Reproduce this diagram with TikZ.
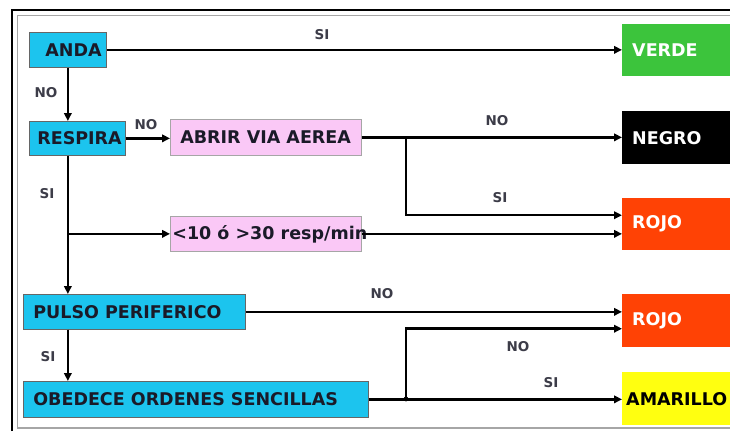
\documentclass[tikz,border=0pt]{standalone}
\usepackage{fontspec}
\setmainfont{DejaVu Sans}
\usetikzlibrary{arrows.meta}
\definecolor{cyanbox}{HTML}{1CC4EE}
\definecolor{pinkbox}{HTML}{FAC8F6}
\definecolor{greenbox}{HTML}{3CC43C}
\definecolor{redbox}{HTML}{FF4205}
\definecolor{yellowbox}{HTML}{FFFF10}
\definecolor{txtdark}{HTML}{1A1A28}
\newcommand{\bigf}{\fontsize{17.5}{20}\selectfont\bfseries}
\newcommand{\smallf}{\fontsize{13.5}{15}\selectfont\bfseries}
\newcommand{\bt}[3]{\makebox[#1pt][l]{\hspace{#2pt}#3}}
\begin{document}
\begin{tikzpicture}[x=1pt,y=-1pt,
  lbox/.style={anchor=north west, inner sep=0pt, fill=cyanbox, draw=gray!80!black, line width=0.7pt, font=\bigf, text=txtdark},
  pbox/.style={lbox, fill=pinkbox, draw=gray!70},
  rbox/.style={anchor=north west, inner sep=0pt, font=\bigf, text=white},
  lab/.style={font=\smallf, text=txtdark!85, inner sep=0pt},
  arr/.style={line width=2.5pt, -{Triangle[length=8pt,width=7.5pt]}},
  ln/.style={line width=2.5pt}]
\useasboundingbox (0,0) rectangle (730,431);
\fill[white] (0,0) rectangle (730,431);
% frame
\draw[line width=1.8pt] (12,431) -- (12,10) -- (730,10);
\draw[gray!70, line width=1pt] (17,428) -- (17,15) -- (730,15);
\draw[gray!70, line width=1.2pt] (17,428) -- (730,428);

% left column
\node[lbox, minimum height=35pt] (anda) at (29,32) {\bt{77}{16}{ANDA}};
\node[lbox, minimum height=34pt] (respira) at (29,121) {\bt{96}{8}{RESPIRA}};
\node[pbox, minimum height=36pt] (abrir) at (170,119) {\bt{191}{10}{ABRIR VIA AEREA}};
\node[pbox, minimum height=35pt] (resp) at (170,216) {\bt{191}{2}{<10 ó >30 resp/min}};
\node[lbox, minimum height=35pt] (pulso) at (23,294) {\bt{222}{10}{PULSO PERIFERICO}};
\node[lbox, minimum height=36pt] (obedece) at (23,381) {\bt{345}{10}{OBEDECE ORDENES SENCILLAS}};

% right column
\node[rbox, fill=greenbox, minimum height=52pt] (verde) at (622,24) {\bt{108}{10}{VERDE}};
\node[rbox, fill=black, minimum height=53pt] (negro) at (622,111) {\bt{108}{10}{NEGRO}};
\node[rbox, fill=redbox, minimum height=52pt] (rojoa) at (622,198) {\bt{108}{10}{\raisebox{3pt}{ROJO}}};
\node[rbox, fill=redbox, minimum height=53pt] (rojob) at (622,294) {\bt{108}{10}{\raisebox{3pt}{ROJO}}};
\node[rbox, fill=yellowbox, text=black, minimum height=53pt] (amarillo) at (622,372) {\bt{108}{4}{AMARILLO}};

% junctions
\coordinate (ja) at (406,137);
\coordinate (jb) at (406,399);

% connectors
\draw[arr] (anda.east) -- (anda.east -| verde.west);
\draw[arr] (anda.south) -- (anda.south |- respira.north);
\draw[arr] (respira.east) -- (respira.east -| abrir.west);
\draw[arr] (abrir.east) -- (abrir.east -| negro.west);
\draw[arr] (ja) |- ([yshift=9pt]rojoa.west);
\draw[arr] (respira.south -| anda.south) -- (pulso.north -| anda.south);
\draw[arr] (resp.west -| anda.south) -- (resp.west);
\draw[arr] (resp.east) -- (resp.east -| rojoa.west);
\draw[arr] (pulso.south -| anda.south) -- (obedece.north -| anda.south);
\draw[arr] (pulso.east) -- (pulso.east -| rojob.west);
\draw[arr] (obedece.east) -- (obedece.east -| amarillo.west);
\draw[arr] (jb) |- ([yshift=-8pt]rojob.west);
\fill (jb) circle (2.4pt);

% labels
\node[lab] (l1) at (322,35) {SI};
\node[lab] (l2) at (46,93) {NO};
\node[lab] (l3) at (146,125) {NO};
\node[lab] (l4) at (497,121) {NO};
\node[lab] (l5) at (500,198) {SI};
\node[lab] (l6) at (47,194) {SI};
\node[lab] (l7) at (382,294) {NO};
\node[lab] (l8) at (48,357) {SI};
\node[lab] (l9) at (518,347) {NO};
\node[lab] (l10) at (551,383) {SI};
\end{tikzpicture}
\end{document}
